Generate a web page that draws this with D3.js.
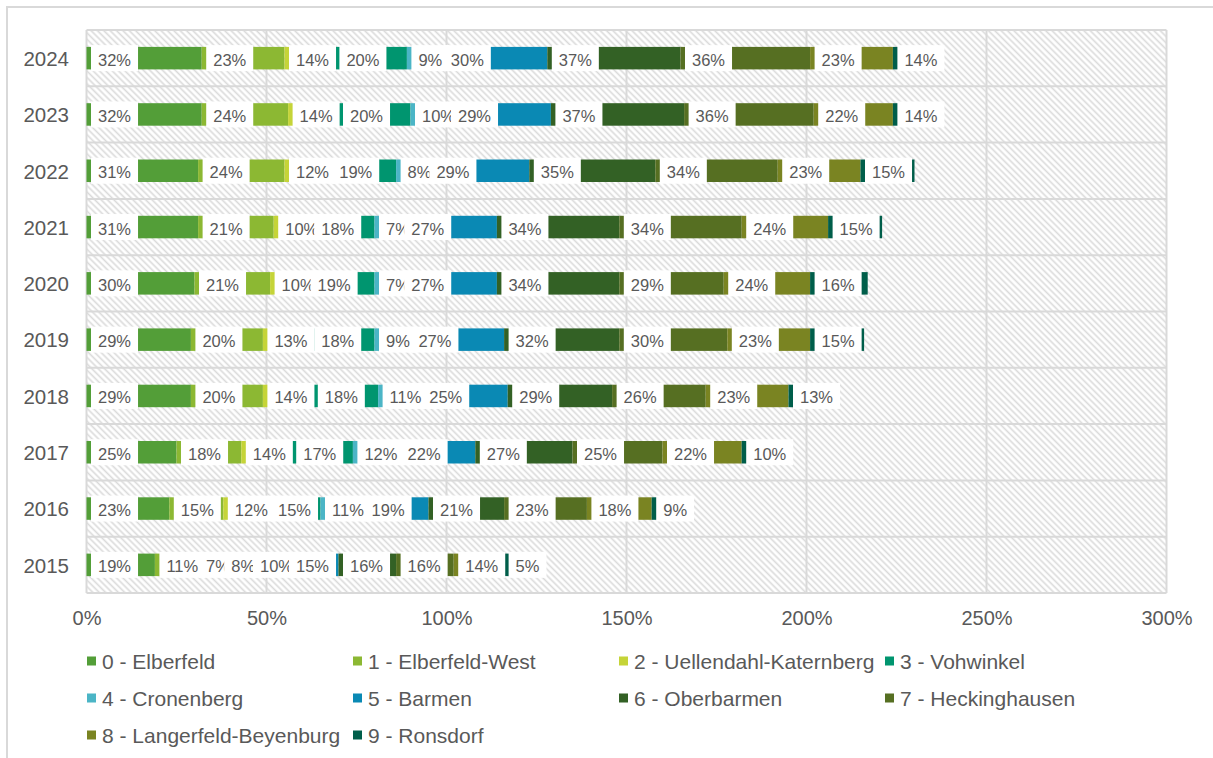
<!DOCTYPE html>
<html>
<head>
<meta charset="utf-8">
<script src="https://cdn.jsdelivr.net/npm/d3@7"></script>
<style>
  html, body { margin: 0; padding: 0; background: #fff; }
  svg { display: block; }
  text { font-family: "Liberation Sans", Arial, sans-serif; fill: #595959; }
</style>
</head>
<body>
<svg id="chart" width="1213" height="758"></svg>
<script>
// Years, top row first
const years = ["2024", "2023", "2022", "2021", "2020", "2019", "2018", "2017", "2016", "2015"];

const districts = [
  "0 - Elberfeld", "1 - Elberfeld-West", "2 - Uellendahl-Katernberg", "3 - Vohwinkel",
  "4 - Cronenberg", "5 - Barmen", "6 - Oberbarmen", "7 - Heckinghausen",
  "8 - Langerfeld-Beyenburg", "9 - Ronsdorf"
];

const districtColors = [
  "#539e38", "#8cb833", "#c5d438", "#00956f", "#4bb5c6",
  "#0a89b4", "#336125", "#566f22", "#7a8422", "#005e4a"
];

// Share per district and year (percent), same order as `years`
const elberfeld     = [32, 32, 31, 31, 30, 29, 29, 25, 23, 19];
const elberfeldWest = [23, 24, 24, 21, 21, 20, 20, 18, 15, 11];
const uellendahl    = [14, 14, 12, 10, 10, 13, 14, 14, 12, 7];
const vohwinkel     = [20, 20, 19, 18, 19, 18, 18, 17, 15, 8];
const cronenberg    = [9, 10, 8, 7, 7, 9, 11, 12, 11, 10];
const barmen        = [30, 29, 29, 27, 27, 27, 25, 22, 19, 15];
const oberbarmen    = [37, 37, 35, 34, 34, 32, 29, 27, 21, 16];
const heckinghausen = [36, 36, 34, 34, 29, 30, 26, 25, 23, 16];
const langerfeld    = [23, 22, 23, 24, 24, 23, 23, 22, 18, 14];
const ronsdorf      = [14, 14, 15, 15, 16, 15, 13, 10, 9, 5];

const xTicks = [0, 50, 100, 150, 200, 250, 300];

const seriesValues = [elberfeld, elberfeldWest, uellendahl, vohwinkel, cronenberg,
                      barmen, oberbarmen, heckinghausen, langerfeld, ronsdorf];

const rows = years.map((yr, i) => {
  const r = { year: yr };
  districts.forEach((d, k) => { r[d] = seriesValues[k][i]; });
  return r;
});

const svg = d3.select("#chart");
const plot = { left: 86.5, right: 1166.5, top: 30, bottom: 593 };

const x = d3.scaleLinear().domain([0, 300]).range([plot.left, plot.right]);
const y = d3.scaleBand().domain(years).range([plot.top, plot.bottom]);
const color = d3.scaleOrdinal().domain(districts).range(districtColors);

const gridColor = "#d9d9d9";

// Outer chart frame
svg.append("rect")
  .attr("x", 7).attr("y", 7).attr("width", 1230).attr("height", 780)
  .attr("fill", "none").attr("stroke", gridColor).attr("stroke-width", 2);

// Diagonal hatch for the plot background
const defs = svg.append("defs");
const pat = defs.append("pattern")
  .attr("id", "hatch")
  .attr("patternUnits", "userSpaceOnUse")
  .attr("width", 4.5).attr("height", 4.5)
  .attr("patternTransform", "rotate(-45)");
pat.append("rect").attr("width", 4.5).attr("height", 4.5).attr("fill", "#ffffff");
pat.append("line")
  .attr("x1", 2.25).attr("y1", 0).attr("x2", 2.25).attr("y2", 4.5)
  .attr("stroke", "#dadada").attr("stroke-width", 1.6);

svg.append("rect")
  .attr("x", plot.left).attr("y", plot.top)
  .attr("width", plot.right - plot.left).attr("height", plot.bottom - plot.top)
  .attr("fill", "url(#hatch)");

// Grid lines
const grid = svg.append("g").attr("stroke", gridColor).attr("stroke-width", 2);
grid.selectAll("line.v").data(xTicks).join("line")
  .attr("class", "v")
  .attr("x1", d => x(d)).attr("x2", d => x(d))
  .attr("y1", plot.top).attr("y2", plot.bottom);
grid.selectAll("line.h").data(years.map(d => y(d)).concat([plot.bottom])).join("line")
  .attr("class", "h")
  .attr("x1", plot.left).attr("x2", plot.right)
  .attr("y1", d => d).attr("y2", d => d);

// Stacked bars
const stacked = d3.stack().keys(districts)(rows);
const barH = 22.5;
const boxH = 26;

const layers = svg.append("g").selectAll("g").data(stacked).join("g")
  .attr("fill", d => color(d.key));
layers.selectAll("rect").data(d => d).join("rect")
  .attr("x", d => x(d[0]))
  .attr("width", d => x(d[1]) - x(d[0]))
  .attr("y", d => y(d.data.year) + y.bandwidth() / 2 - barH / 2)
  .attr("height", barH);

// Value labels on white boxes at the start of each segment
const labelLayer = svg.append("g");
stacked.forEach(layer => {
  layer.forEach(d => {
    const v = d.data[layer.key];
    const cy = y(d.data.year) + y.bandwidth() / 2;
    const g = labelLayer.append("g")
      .attr("transform", `translate(${x(d[0]) + 4.5},${cy})`);
    const box = g.append("rect").attr("fill", "#ffffff");
    const t = g.append("text")
      .attr("x", 7).attr("y", 7.5)
      .attr("font-size", 16.5)
      .text(v + "%");
    const w = t.node().getComputedTextLength();
    box.attr("x", 0).attr("y", -boxH / 2).attr("width", w + 14).attr("height", boxH);
  });
});

// Axes
const xAxis = svg.append("g")
  .attr("transform", `translate(0,${plot.bottom})`)
  .call(d3.axisBottom(x).tickValues(xTicks).tickFormat(d => d + "%").tickSize(0).tickPadding(18));
xAxis.select(".domain").remove();
xAxis.selectAll("text").attr("font-size", 20).attr("fill", "#595959")
  .attr("font-family", "Liberation Sans, Arial, sans-serif");

const yAxis = svg.append("g")
  .attr("transform", `translate(${plot.left},0)`)
  .call(d3.axisLeft(y).tickSize(0).tickPadding(17.5));
yAxis.select(".domain").remove();
yAxis.selectAll("text").attr("font-size", 20.5).attr("fill", "#595959")
  .attr("dy", "0.38em")
  .attr("font-family", "Liberation Sans, Arial, sans-serif");

// Legend
const legendCols = 4, colW = 266, legendX = 87, legendY = 661, rowH = 37;
const legend = svg.append("g").selectAll("g").data(districts).join("g")
  .attr("transform", (d, i) =>
    `translate(${legendX + (i % legendCols) * colW},${legendY + Math.floor(i / legendCols) * rowH})`);
legend.append("rect")
  .attr("x", 0).attr("y", -4.5).attr("width", 9).attr("height", 9)
  .attr("fill", d => color(d));
legend.append("text")
  .attr("x", 15).attr("y", 7.5)
  .attr("font-size", 21)
  .text(d => d);
</script>
</body>
</html>
